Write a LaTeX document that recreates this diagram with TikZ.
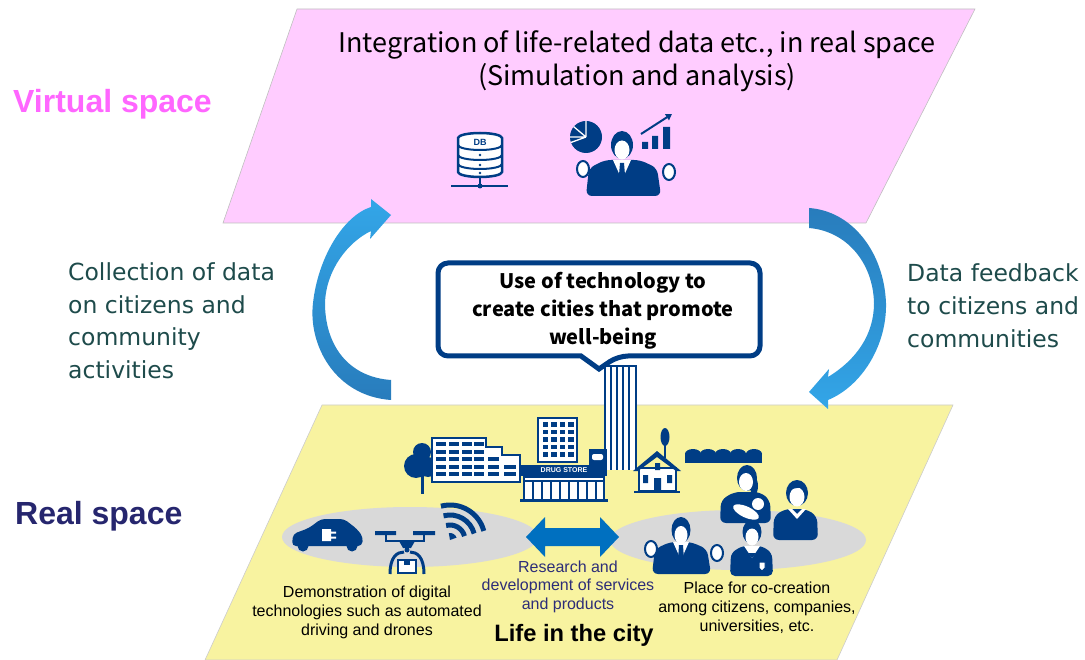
\documentclass[tikz,border=0pt]{standalone}
\usepackage{fontspec}
\setmainfont{Liberation Sans}
\newfontfamily\jpfont{Noto Sans CJK JP}
\newfontfamily\notefont{DejaVu Sans}
\usetikzlibrary{arrows.meta}

\definecolor{virtualpink}{RGB}{255,204,255}
\definecolor{virtualtext}{RGB}{255,102,255}
\definecolor{realyellow}{RGB}{248,243,160}
\definecolor{realtext}{RGB}{38,38,110}
\definecolor{noteteal}{RGB}{30,75,75}
\definecolor{citynavy}{RGB}{0,61,133}
\definecolor{groundgray}{RGB}{217,217,217}
\definecolor{linkblue}{RGB}{0,112,192}
\definecolor{rdtext}{RGB}{45,45,120}
\definecolor{loopdark}{RGB}{40,124,188}
\definecolor{looplight}{RGB}{51,166,232}

\tikzset{
  spacename/.style={anchor=base west, inner sep=0, font=\bfseries\fontsize{32}{36}\selectfont},
  loopnote/.style={anchor=base west, align=left, inner sep=0, text=noteteal, font=\notefont\fontsize{23.5}{33}\selectfont},
  citynote/.style={anchor=base, align=center, inner sep=0, font=\fontsize{16}{19}\selectfont},
  icon/.style={fill=citynavy},
  iconline/.style={draw=citynavy, line width=2.5},
  face/.style={fill=white}
}

\begin{document}
\begin{tikzpicture}[x=1pt, y=-1pt]
\useasboundingbox (0,0) rectangle (1085,660);

% the two planes
\filldraw[fill=virtualpink, draw=black!25, line width=.6] (297,9) -- (975,9) -- (866,223) -- (223,223) -- cycle;
\filldraw[fill=realyellow, draw=black!20, line width=.6] (322,405) -- (953,405) -- (837,660) -- (205,660) -- cycle;

\node[spacename, text=virtualtext] (virtual) at (13,113) {Virtual space};
\node[spacename, text=realtext] (real) at (15,524) {Real space};

% multi-line nodes sit on their last baseline
\node[anchor=base, align=center, inner sep=0, font=\jpfont\fontsize{27}{33}\selectfont] (integration) at (637,86)
  {Integration of life-related data etc., in real space\\(Simulation and analysis)};

% loop arrows
\shade[top color=looplight, bottom color=loopdark]
  (391,400) .. controls (335,396) and (308,345) .. (313,303)
  .. controls (318,258) and (343,216) .. (371,207) -- (371,199) -- (391,215) -- (370,239) -- (371,231)
  .. controls (348,242) and (326,270) .. (325,303)
  .. controls (325,345) and (348,377) .. (391,380) -- cycle;
\shade[top color=loopdark, bottom color=looplight]
  (809,208) .. controls (852,211) and (884,252) .. (886,303)
  .. controls (887,345) and (862,386) .. (828,400) -- (828,409) -- (809,392) -- (829,369) -- (828,377)
  .. controls (856,360) and (874,335) .. (874,303)
  .. controls (873,262) and (846,231) .. (809,228) -- cycle;

\node[loopnote] (collect) at (68,379) {Collection of data\\on citizens and\\community\\activities};
\node[loopnote] (feedback) at (907,348) {Data feedback\\to citizens and\\communities};

% database
\filldraw[fill=white, iconline] (458,138) -- (458,172) arc[start angle=180, end angle=0, x radius=22, y radius=5]
  -- (502,138) arc[start angle=0, end angle=-180, x radius=22, y radius=5] -- cycle;
\foreach \y in {145,155,164}
  \draw[citynavy, line width=2] (458,\y) arc[start angle=180, end angle=0, x radius=22, y radius=5];
\foreach \y in {155,165,173}
  \fill[citynavy] (480,\y) circle (1.3);
\node[text=citynavy, inner sep=0, font=\bfseries\fontsize{9}{9}\selectfont] (dbtag) at (480,142) {DB};
\draw[citynavy, line width=2] (480,177) -- (480,186) (451,186) -- (508,186);
\fill[citynavy] (480,186) circle (2.5);

% analyst
\fill[icon] (586,137) circle (16);
\draw[white, line width=1.3] (586,137) -- ++(-90:16) (586,137) -- ++(180:16) (586,137) -- ++(-140:16) (586,137) -- ++(160:16);
\fill[icon] (642,142) rectangle (648,149) (652,136) rectangle (658,149) (663,127) rectangle (670,149);
\draw[citynavy, line width=2, -{Triangle[length=6,width=7]}] (641,134) -- (672,114);
\fill[icon, rounded corners=6] (586,196) -- (589,168) -- (605,160) -- (640,160) -- (657,168) -- (661,196) -- cycle;
\fill[face] (613,160) -- (622,180) -- (631,160) -- cycle;
\fill[icon] (620,163) -- (624,163) -- (625.5,181) -- (622,186) -- (618.5,181) -- cycle;
\fill[icon] (622,145) ellipse (11 and 14);
\fill[face] (622,150) ellipse (7.5 and 9.5);
\filldraw[face, draw=citynavy, line width=2] (583,169) ellipse (6 and 8);
\filldraw[face, draw=citynavy, line width=2] (669,172) ellipse (6 and 8);

% ground under the two groups
\fill[groundgray] (410,537) ellipse (128 and 30);
\fill[groundgray] (738,540) ellipse (128 and 30);

% tower
\filldraw[fill=white, iconline] (605,470) -- (605,366) -- (636,366) -- (636,470);
\foreach \x in {611,617,623,629}
  \draw[citynavy, line width=2] (\x,366) -- (\x,470);

% tree and office block
\fill[icon] (422,452) circle (9) (416,466) circle (12) (428,467) circle (10);
\draw[citynavy, line width=3] (422,470) -- (422,494);
\filldraw[fill=white, iconline] (432,482) -- (432,438) -- (486,438) -- (486,447) -- (502,447) -- (502,455) -- (520,455) -- (520,482) -- cycle;
\foreach \y in {442,449.5,457,464.5,472}
  \foreach \x in {436,449,462,474}
    \fill[icon] (\x,\y) rectangle ++(10,4);
\foreach \y in {457,464.5,472}
  \fill[icon] (488,\y) rectangle ++(11,4);
\foreach \y in {464.5,472}
  \fill[icon] (504,\y) rectangle ++(12,4);

% block behind the drug store
\filldraw[fill=white, iconline] (538,462) rectangle (577,418);
\foreach \i in {0,...,3}
  \foreach \j in {0,...,4}
    \fill[icon] (542.5+\i*8.5,422+\j*7.5) rectangle ++(5.5,4.5);

% drug store
\fill[icon] (589,449) rectangle (607,466);
\fill[white, rounded corners=2] (592,454) rectangle (603,460);
\fill[icon] (521,465) rectangle (607,476);
\node[text=white, inner sep=0, font=\bfseries\fontsize{7}{7}\selectfont] (drugsign) at (564,470.5) {DRUG STORE};
\filldraw[fill=white, draw=citynavy, line width=2] (524,477) rectangle (604,500);
\draw[citynavy, line width=1.5] (524,481) -- (604,481);
\foreach \x in {533,542,...,596}
  \draw[citynavy, line width=1.5] (\x,481) -- (\x,500);
\draw[citynavy, line width=2.5] (520,500.5) -- (608,500.5);

% house, tree and hedge
\fill[icon] (665,437) ellipse (4.5 and 9);
\draw[citynavy, line width=2.5] (665,444) -- (665,458);
\filldraw[fill=white, iconline] (639,468) rectangle (676,491);
\fill[icon] (633,471) -- (657,451) -- (681,471) -- (676,471) -- (657,457) -- (638,471) -- cycle;
\fill[icon] (654,478) rectangle (661,491) (643,475) rectangle (648,483) (667,475) rectangle (672,483) (655,463) rectangle (660,470);
\draw[citynavy, line width=2.5] (634,492) -- (680,492);
\fill[icon] (685,453) rectangle (762,463);
\foreach \x in {693,708,723,738,754}
  \fill[icon] (\x,454) ellipse (8 and 5);

% people at the co-creation place
\fill[icon, rounded corners=6] (720,523) -- (721,500) -- (734,492) -- (760,492) -- (770,500) -- (771,523) -- cycle;
\fill[icon] (747,478) ellipse (10 and 13) (754,486) ellipse (4 and 9);
\fill[face] (746,482) ellipse (7 and 9);
\fill[face, rotate around={-25:(746,512)}] (746,512) ellipse (14 and 5.5);
\fill[face] (758,504) circle (6);
\fill[icon, rounded corners=6] (773,540) -- (774,516) -- (785,509) -- (806,509) -- (817,516) -- (818,540) -- cycle;
\fill[icon] (797,493) ellipse (11 and 13);
\fill[face] (797,497) ellipse (7.5 and 9.5);
\draw[citynavy, line width=1] (789,489) -- (805,486);
\fill[face] (788,509) -- (797,519) -- (806,509) -- (802,509) -- (797,514) -- (792,509) -- cycle;

\fill[icon, rounded corners=6] (652,574) -- (655,549) -- (670,542) -- (691,542) -- (707,549) -- (711,574) -- cycle;
\fill[face] (673,542) -- (681,560) -- (689,542) -- cycle;
\fill[icon] (679,545) -- (683,545) -- (684,560) -- (681,564) -- (678,560) -- cycle;
\fill[icon] (681,530) ellipse (9.5 and 13);
\fill[face] (681,535) ellipse (6.5 and 9);
\filldraw[face, draw=citynavy, line width=2] (651,549) ellipse (6 and 8);
\filldraw[face, draw=citynavy, line width=2] (717,553) ellipse (6 and 8);

\fill[icon, rounded corners=5] (730,576) -- (731,553) -- (742,546) -- (762,546) -- (772,553) -- (773,576) -- cycle;
\fill[face] (744,546) -- (752,558) -- (760,546) -- cycle;
\fill[icon] (748,553) -- (756,553) -- (752,558) -- cycle;
\fill[icon] (752,532) ellipse (9.5 and 12);
\fill[face] (752,537) ellipse (6.5 and 8.5);
\filldraw[face, draw=citynavy, line width=1] (759,562) -- (765,562) -- (765,568) -- (762,571) -- (759,568) -- cycle;

% car, drone and wireless link
\fill[icon, rounded corners=4] (292,546) -- (293,534) -- (309,528) -- (321,519) -- (344,519) -- (357,529) -- (363,537) -- (362,546) -- cycle;
\fill[icon] (303,546) circle (5.5) (352,546) circle (5.5);
\fill[white] (322,529) rectangle (331,541) (331,531.5) rectangle (336,533.5) (331,536.5) rectangle (336,538.5);
\fill[icon] (375,531) rectangle (396,535) (413,531) rectangle (435,535);
\draw[citynavy, line width=2.5] (386,535) -- (386,541) -- (424,541) -- (424,535);
\fill[icon] (399,541) -- (415,541) -- (411,548) -- (403,548) -- cycle;
\fill[icon] (407,550) circle (2.5);
\draw[citynavy, line width=3] (390,574) .. controls (390,557) and (397,552) .. (404,552)
  (410,552) .. controls (417,552) and (424,557) .. (424,574);
\filldraw[fill=white, draw=citynavy, line width=2] (398,560) rectangle (416,573);
\fill[icon] (404,560) rectangle (410,565);
\fill[icon] (450,540) -- ++(-100:7) arc[start angle=-100, end angle=-20, radius=7] -- cycle;
\foreach \r in {15,25,35}
  \draw[citynavy, line width=5] (450,540) ++(-105:\r) arc[start angle=-105, end angle=-15, radius=\r];

% exchange between the two sides
\fill[linkblue] (526,537) -- (545,517) -- (545,528) -- (600,528) -- (600,517) -- (619,537) -- (600,557) -- (600,546) -- (545,546) -- (545,557) -- cycle;

\node[citynote] (demo) at (367,635) {Demonstration of digital\\technologies such as automated\\driving and drones};
\node[citynote, text=rdtext, font=\fontsize{16}{18.5}\selectfont] (rnd) at (568,609) {Research and\\development of services\\and products};
\node[citynote] (cocreation) at (757,631) {Place for co-creation\\among citizens, companies,\\universities, etc.};
\node[anchor=base, inner sep=0, font=\bfseries\fontsize{23.7}{26}\selectfont] (life) at (574,641) {Life in the city};

% callout
\filldraw[fill=white, draw=citynavy, line width=5, rounded corners=10]
  (438,263) -- (760,263) -- (760,356) -- (618,356) [sharp corners] -- (599,369) -- (581,356) [rounded corners=10] -- (438,356) -- cycle;
\node[anchor=base, align=center, inner sep=0, font=\jpfont\bfseries\fontsize{20}{28.5}\selectfont] (wellbeing) at (603,345)
  {Use of technology to\\create cities that promote\\well-being};
\end{tikzpicture}
\end{document}
